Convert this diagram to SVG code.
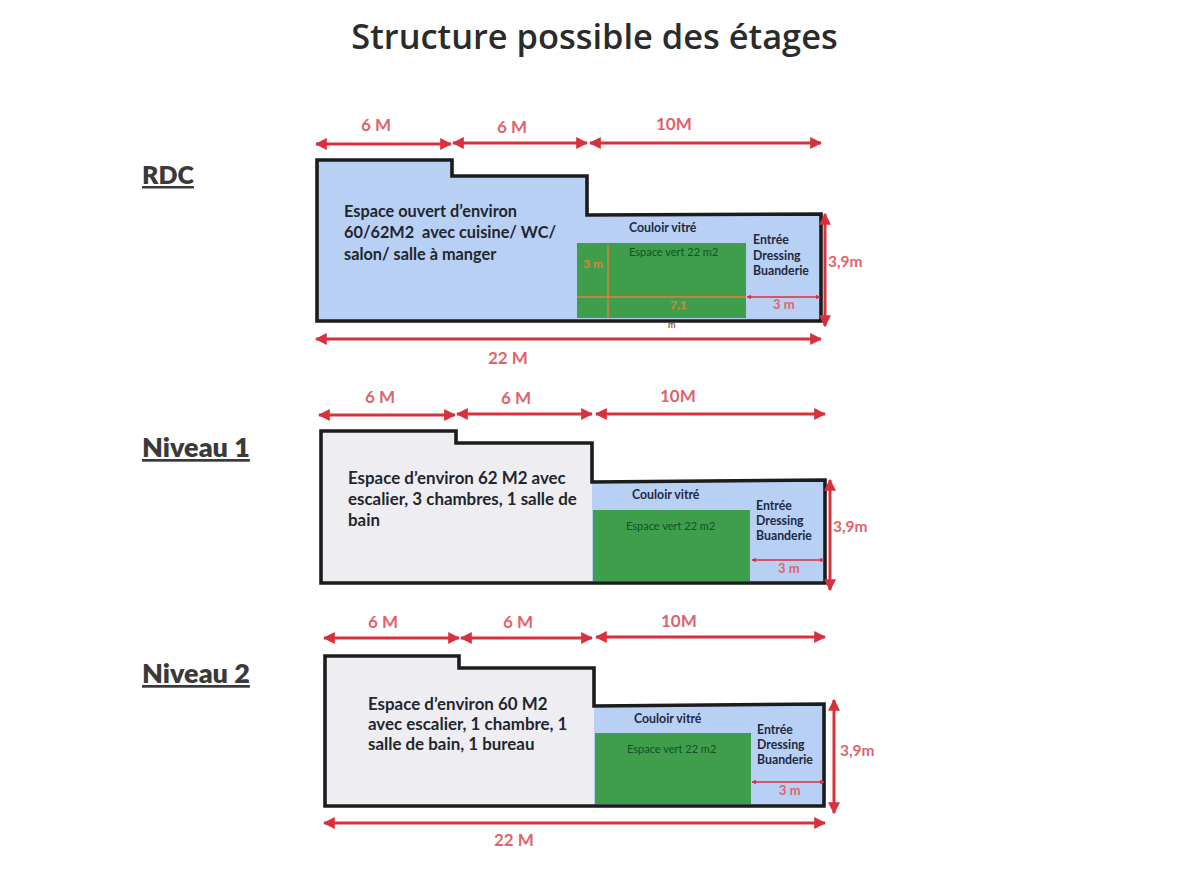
<svg xmlns="http://www.w3.org/2000/svg" width="1190" height="870" viewBox="0 0 1190 870">
<style>
text{font-family:"Lato","Open Sans","Liberation Sans",sans-serif}
.title{font-size:34.4px;font-weight:600;fill:#2b2b2b;font-family:"Open Sans","Lato",sans-serif}
.lvl{font-size:25px;font-weight:800;fill:#3a3a3a;text-decoration:underline}
.n{font-size:27px}
.out{fill:none;stroke:#1c1c1c;stroke-width:3.6}
.blue{fill:#b7d0f4}
.grey{fill:#eeeef2}
.green{fill:#3f9e4b}
.main{font-size:16.3px;font-weight:700;fill:#22262e}
.m2{font-size:16.9px}
.small{font-size:12.3px;font-weight:700;fill:#1e2a40}
.sv{font-size:11px;fill:#14502a}
.dim{font-size:17px;font-weight:700;fill:#e0636b}
.h{font-size:15.5px}
.d3{font-size:13px;font-weight:700;fill:#e0636b}
.arrow{fill:none;stroke:#d8303c;stroke-width:3;marker-start:url(#a);marker-end:url(#a)}
.thin{fill:none;stroke:#d8303c;stroke-width:1.6;marker-start:url(#b);marker-end:url(#b)}
.or{fill:none;stroke:#e8803a;stroke-width:1.3}
.ol{font-size:12px;font-weight:700;fill:#e0803a}
</style>
<defs>
<marker id="a" viewBox="0 0 10 10" refX="9" refY="5" markerWidth="4" markerHeight="4" orient="auto-start-reverse"><path d="M0 0L10 5L0 10z" fill="#d8303c"/></marker>
<marker id="b" viewBox="0 0 10 10" refX="9" refY="5" markerWidth="3" markerHeight="3" orient="auto-start-reverse"><path d="M0 0L10 5L0 10z" fill="#d8303c"/></marker>
</defs>
<rect width="1190" height="870" fill="#fff"/>
<text class="title" x="594.5" y="49" text-anchor="middle">Structure possible des étages</text>

<g id="rdc">
<path class="blue" d="M317 160H452V176H587V215L821 214V321H317z"/>
<rect class="green" x="577" y="243" width="169" height="75"/>
<path class="out" d="M317 160H452V176H587V215L821 214V321H317z"/>
<text class="lvl" x="142" y="184">RDC</text>
<g class="main"><text x="344" y="217">Espace ouvert d’environ</text><text x="344" y="238" xml:space="preserve">60/62M2  avec cuisine/ WC/</text><text x="344" y="260">salon/ salle à manger</text></g>
<text class="small" x="629" y="232">Couloir vitré</text>
<text class="sv" x="629" y="256">Espace vert 22 m2</text>
<g class="small"><text x="753" y="244">Entrée</text><text x="753" y="260">Dressing</text><text x="753" y="275">Buanderie</text></g>
<text class="ol" x="583" y="268">3 m</text>
<text class="ol" x="670" y="309">7,1</text>
<text class="ol" x="668" y="328" style="font-size:9px;fill:#b05050">m</text>
<text class="d3" x="773" y="309">3 m</text>
<text class="dim" x="361" y="131">6 M</text><text class="dim" x="497" y="133">6 M</text><text class="dim" x="656" y="130">10M</text>
<text class="dim h" x="828" y="267">3,9m</text>
<text class="dim" x="488" y="364">22 M</text>
</g>

<g id="niveau1">
<path class="grey" d="M321 431H456V443H592V583H321z"/>
<path class="blue" d="M592 482L825 480V583H592z"/>
<rect class="green" x="593" y="510" width="157" height="71"/>
<path class="out" d="M321 431H456V443H592V482L825 480V583H321z"/>
<text class="lvl n" x="142" y="457">Niveau 1</text>
<g class="main m2"><text x="348" y="484">Espace d’environ 62 M2 avec</text><text x="348" y="505">escalier, 3 chambres, 1 salle de</text><text x="348" y="526">bain</text></g>
<text class="small" x="632" y="499">Couloir vitré</text>
<text class="sv" x="626" y="530">Espace vert 22 m2</text>
<g class="small"><text x="756" y="510">Entrée</text><text x="756" y="525">Dressing</text><text x="756" y="540">Buanderie</text></g>
<text class="d3" x="778" y="573">3 m</text>
<text class="dim" x="365" y="403">6 M</text><text class="dim" x="501" y="404">6 M</text><text class="dim" x="660" y="402">10M</text>
<text class="dim h" x="833" y="532">3,9m</text>
</g>

<g id="niveau2">
<path class="grey" d="M325 656H459V668H594V806H325z"/>
<path class="blue" d="M594 706L824 704V806H594z"/>
<rect class="green" x="595" y="733" width="156" height="71"/>
<path class="out" d="M325 656H459V668H594V706L824 704V806H325z"/>
<text class="lvl n" x="142" y="683">Niveau 2</text>
<g class="main m2"><text x="368" y="710">Espace d’environ 60 M2</text><text x="368" y="730">avec escalier, 1 chambre, 1</text><text x="368" y="750">salle de bain, 1 bureau</text></g>
<text class="small" x="634" y="723">Couloir vitré</text>
<text class="sv" x="627" y="753">Espace vert 22 m2</text>
<g class="small"><text x="757" y="734">Entrée</text><text x="757" y="749">Dressing</text><text x="757" y="764">Buanderie</text></g>
<text class="d3" x="779" y="795">3 m</text>
<text class="dim" x="368" y="628">6 M</text><text class="dim" x="503" y="628">6 M</text><text class="dim" x="661" y="627">10M</text>
<text class="dim h" x="840" y="756">3,9m</text>
<text class="dim" x="494" y="846">22 M</text>
</g>

<g id="connectors">
<path class="arrow" d="M316 144H451"/><path class="arrow" d="M453 143H587"/><path class="arrow" d="M590 143H821"/>
<path class="arrow" d="M316 339H821"/>
<path class="arrow" d="M825 214V326"/>
<path class="thin" d="M747 297H820"/>
<path class="or" d="M577 297H746M608 245V318"/>
<path class="arrow" d="M319 415H455"/><path class="arrow" d="M457 414H592"/><path class="arrow" d="M596 414H825"/>
<path class="arrow" d="M830 480V590"/>
<path class="thin" d="M752 560H824"/>
<path class="arrow" d="M324 638H459"/><path class="arrow" d="M461 638H592"/><path class="arrow" d="M596 637H825"/>
<path class="arrow" d="M324 823H825"/>
<path class="arrow" d="M834 700V813"/>
<path class="thin" d="M752 782H824"/>
</g>
</svg>
